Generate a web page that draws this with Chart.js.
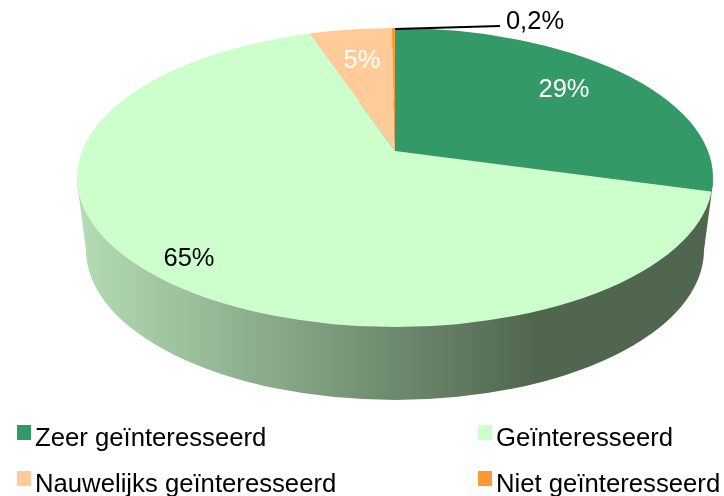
<!DOCTYPE html>
<html>
<head>
<meta charset="utf-8">
<script src="https://cdn.jsdelivr.net/npm/chart.js@4"></script>
<style>
  html, body { margin: 0; padding: 0; background: #fff; }
  #wrap { position: relative; width: 724px; height: 496px; overflow: hidden; }
  #legend div { position: absolute; font: 25.7px "Liberation Sans", Arial, sans-serif; color: #000; white-space: nowrap; line-height: 28px; }
  #legend span { position: absolute; width: 14px; height: 15px; }
</style>
</head>
<body>
<div id="wrap">
  <canvas id="pie" width="724" height="496"></canvas>
  <div id="legend"></div>
</div>
<script>
const categories = ['Zeer geïnteresseerd', 'Geïnteresseerd', 'Nauwelijks geïnteresseerd', 'Niet geïnteresseerd'];
const shares = [29, 65, 5, 0.2];
const sliceColors = ['#339966', '#CCFFCC', '#FFCC99', '#FF9933'];

// label spot and text colour per slice, in page pixels
const labelSpots = [[564, 89.5, '#fff'], [189, 258.5, '#000'], [362, 60.5, '#fff'], [535, 22, '#000']];
const legendSpots = [[17, 425], [478, 425], [17, 471], [478, 471]];

// the tilted disc: slices are drawn flattened round the apex, then cut to the top ellipse
const tilt = 0.47;
const top3d = { x: 395, y: 177.5, rx: 318, ry: 149.5 };
const base3d = { x: 395, y: 250, rx: 309, ry: 150 };

const pie3d = {
  id: 'pie3d',
  beforeDatasetsDraw(chart) {
    const c = chart.ctx;
    const arc = chart.getDatasetMeta(0).data[0];

    // side wall
    const wall = c.createLinearGradient(78, 0, 713, 0);
    wall.addColorStop(0, '#b5dcb5');
    wall.addColorStop(0.49, '#6f8b6f');
    wall.addColorStop(0.72, '#51664f');
    wall.addColorStop(1, '#51664f');
    c.save();
    c.fillStyle = wall;
    c.beginPath();
    c.ellipse(base3d.x, base3d.y, base3d.rx, base3d.ry, 0, 0, Math.PI * 2);
    c.fill();
    c.beginPath();
    c.moveTo(top3d.x - top3d.rx, top3d.y + 5);
    c.lineTo(top3d.x + top3d.rx, top3d.y + 5);
    c.lineTo(base3d.x + base3d.rx, base3d.y);
    c.lineTo(base3d.x - base3d.rx, base3d.y);
    c.closePath();
    c.fill();
    c.restore();

    // top face
    c.save();
    c.beginPath();
    c.ellipse(top3d.x, top3d.y, top3d.rx, top3d.ry, 0, 0, Math.PI * 2);
    c.clip();
    c.translate(arc.x, arc.y);
    c.scale(1, tilt);
    c.translate(-arc.x, -arc.y);
  },
  afterDatasetsDraw(chart) {
    chart.ctx.restore();
  },
  afterDraw(chart) {
    const c = chart.ctx;
    c.save();
    // leader for the thin slice
    c.strokeStyle = '#000';
    c.lineWidth = 2;
    c.beginPath();
    c.moveTo(395, 29);
    c.lineTo(500, 26);
    c.stroke();
    c.font = '25.5px "Liberation Sans", Arial, sans-serif';
    c.textAlign = 'center';
    c.textBaseline = 'middle';
    shares.forEach((v, i) => {
      const [x, y, col] = labelSpots[i];
      c.fillStyle = col;
      c.fillText(String(v).replace('.', ',') + '%', x, y);
    });
    c.restore();
  }
};

new Chart(document.getElementById('pie'), {
  type: 'pie',
  data: {
    labels: categories,
    datasets: [{
      data: shares,
      backgroundColor: sliceColors,
      borderWidth: 0,
      clip: false
    }]
  },
  options: {
    responsive: false,
    animation: false,
    radius: 400,
    layout: { padding: { left: 66, bottom: 194 } },
    plugins: { legend: { display: false }, tooltip: { enabled: false } }
  },
  plugins: [pie3d]
});

const legend = document.getElementById('legend');
categories.forEach((name, i) => {
  const [x, y] = legendSpots[i];
  const box = document.createElement('span');
  box.style.left = x + 'px';
  box.style.top = y + 'px';
  box.style.background = sliceColors[i];
  legend.appendChild(box);
  const txt = document.createElement('div');
  txt.style.left = (x + 18) + 'px';
  txt.style.top = (y - 2) + 'px';
  txt.textContent = name;
  legend.appendChild(txt);
});
</script>
</body>
</html>
